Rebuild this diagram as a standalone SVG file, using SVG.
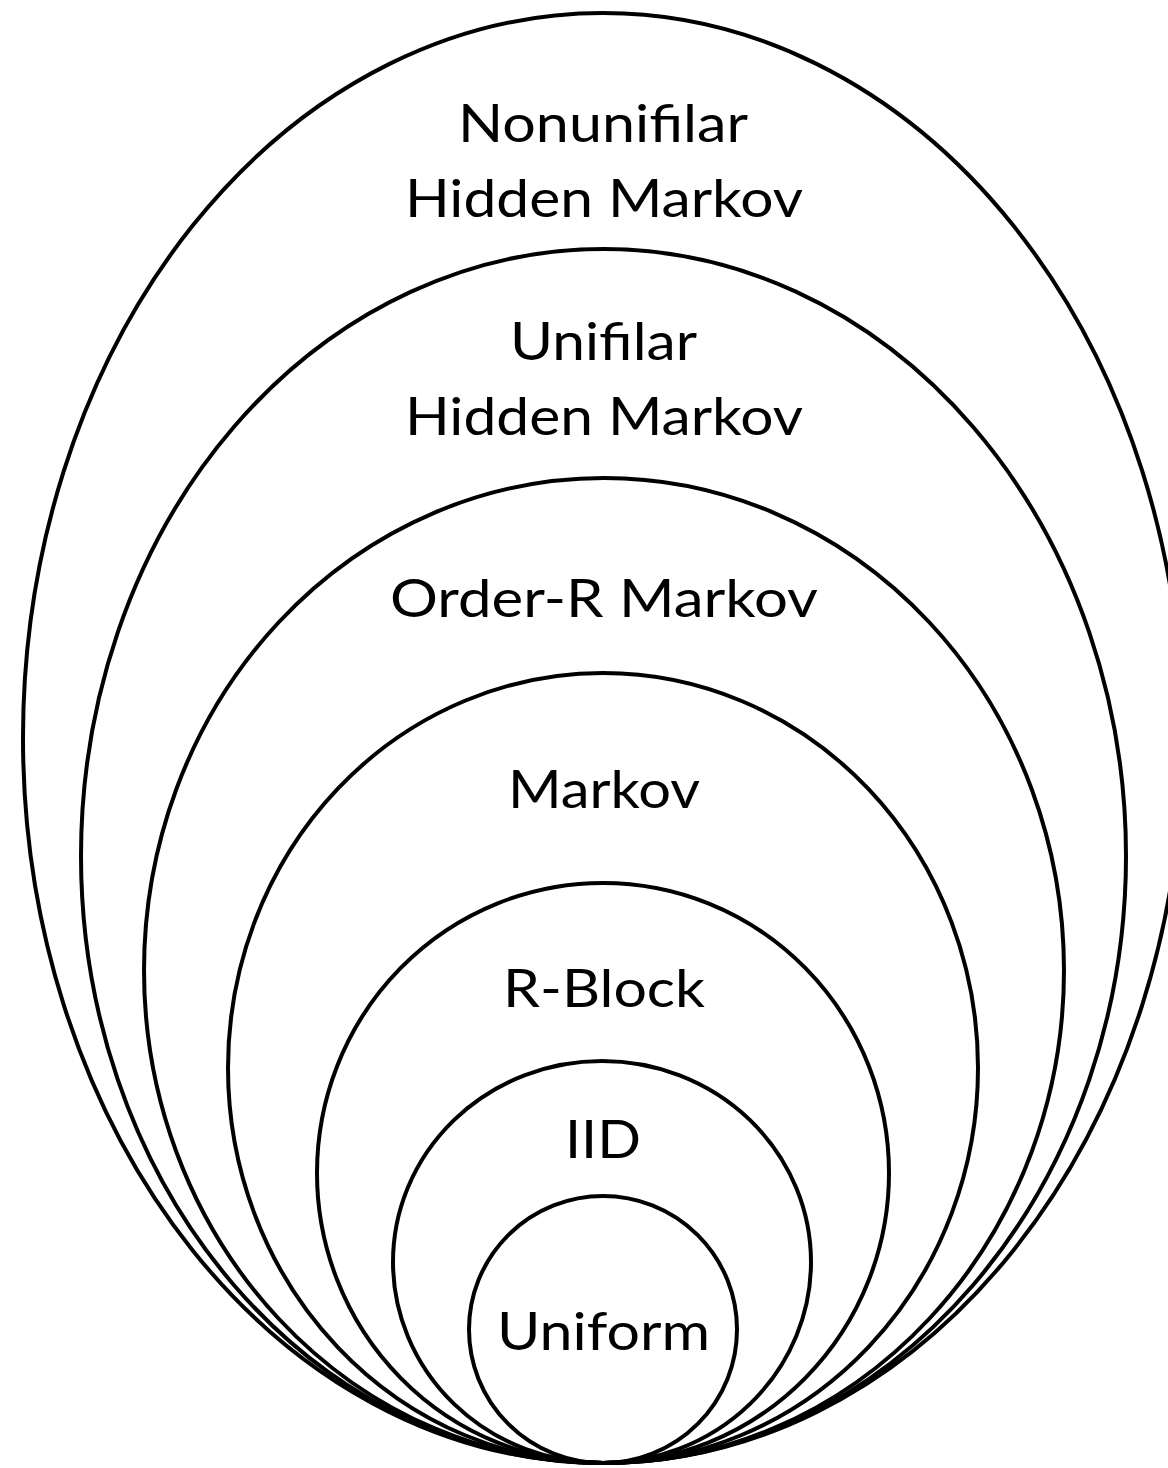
<svg xmlns="http://www.w3.org/2000/svg" width="1168" height="1468" viewBox="0 0 1168 1468">
<style>
.ring{fill:none;stroke:#000;stroke-width:4}
.lbl{font-family:Lato,"Liberation Sans",sans-serif;font-size:52px;fill:#000;text-anchor:middle}
</style>
<rect width="1168" height="1468" fill="#fff"/>
<g id="nonunifilar">
<ellipse class="ring" cx="603" cy="738" rx="580" ry="725"/>
<text class="lbl" x="603" y="142" textLength="290" lengthAdjust="spacingAndGlyphs">Nonunifilar</text>
<text class="lbl" x="604" y="217" textLength="398" lengthAdjust="spacingAndGlyphs">Hidden Markov</text>
</g>
<g id="unifilar">
<ellipse class="ring" cx="603.5" cy="856" rx="522.5" ry="607"/>
<text class="lbl" x="603.5" y="360" textLength="187" lengthAdjust="spacingAndGlyphs">Unifilar</text>
<text class="lbl" x="604" y="435" textLength="398" lengthAdjust="spacingAndGlyphs">Hidden Markov</text>
</g>
<g id="order-r">
<ellipse class="ring" cx="604" cy="970.5" rx="460" ry="492.5"/>
<text class="lbl" x="604" y="617" textLength="428" lengthAdjust="spacingAndGlyphs">Order-R Markov</text>
</g>
<g id="markov">
<ellipse class="ring" cx="603" cy="1068" rx="375" ry="395"/>
<text class="lbl" x="604" y="808" textLength="192" lengthAdjust="spacingAndGlyphs">Markov</text>
</g>
<g id="rblock">
<ellipse class="ring" cx="603" cy="1173" rx="286" ry="290"/>
<text class="lbl" x="604" y="1007" textLength="202" lengthAdjust="spacingAndGlyphs">R-Block</text>
</g>
<g id="iid">
<ellipse class="ring" cx="602" cy="1262" rx="209" ry="201"/>
<text class="lbl" x="603" y="1158" textLength="76" lengthAdjust="spacingAndGlyphs">IID</text>
</g>
<g id="uniform">
<ellipse class="ring" cx="603" cy="1329.5" rx="134" ry="133.5"/>
<text class="lbl" x="603.5" y="1350" textLength="213" lengthAdjust="spacingAndGlyphs">Uniform</text>
</g>
<g id="connectors"/>
</svg>
